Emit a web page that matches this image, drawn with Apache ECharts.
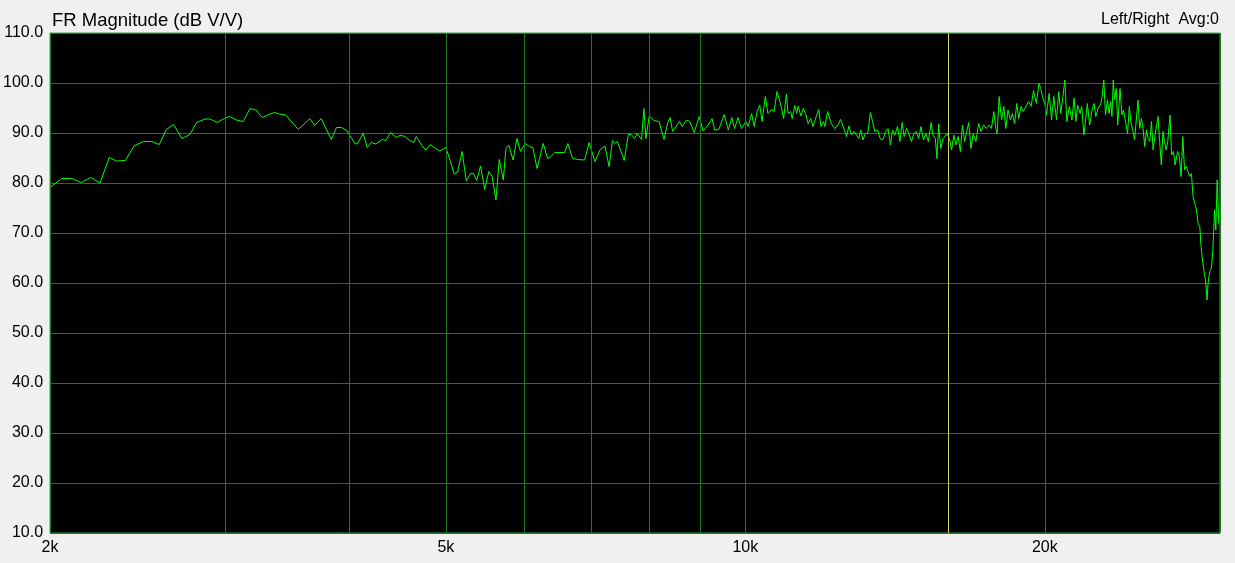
<!DOCTYPE html>
<html>
<head>
<meta charset="utf-8">
<title>FR Magnitude</title>
<script src="https://cdn.jsdelivr.net/npm/echarts@6/dist/echarts.min.js"></script>
<style>
  html, body { margin: 0; padding: 0; background: #f0f0f0; }
  #chart { width: 1235px; height: 563px; }
</style>
</head>
<body>
<div id="chart"></div>
<script>
// frequency (Hz) and magnitude (dB V/V)
const freqHz = [
  2000, 2054, 2102, 2150, 2198, 2245, 2294, 2332, 2381, 2429, 2482, 2530, 2575, 2618, 2662, 2714,
  2765, 2808, 2863, 2895, 2946, 2993, 3030, 3079, 3128,
  3177, 3221, 3270, 3337, 3361, 3402, 3451, 3553, 3649, 3691, 3746, 3835, 3881, 3927, 3974, 4051,
  4072, 4128, 4168, 4206, 4253, 4316, 4350, 4399, 4454, 4496, 4537, 4600, 4641, 4669, 4732, 4775,
  4822, 4884, 4930,
  5000, 5047, 5097, 5137, 5191, 5242, 5292, 5329, 5369, 5417, 5470, 5522, 5565, 5614, 5657, 5689,
  5710, 5745, 5784, 5841, 5893, 5942, 6004, 6067, 6115, 6174, 6263, 6327, 6376, 6435, 6509, 6582,
  6631, 6704, 6783, 6894, 6922, 6965, 7059, 7142, 7224, 7252, 7295, 7352, 7390, 7434, 7500, 7554,
  7628, 7678, 7739,
  7782, 7864, 7907, 7944, 8005, 8092, 8190, 8283, 8357, 8402, 8450, 8585, 8641, 8724, 8793, 8883,
  8987, 9070, 9189, 9258, 9314, 9403, 9521, 9614, 9691, 9755, 9832, 9911, 10012, 10065, 10145, 10206,
  10276, 10339, 10393, 10473, 10534, 10627, 10689, 10760, 10865, 10925,
  10996, 11039, 11109, 11144, 11214, 11259, 11300, 11371, 11432, 11495, 11563, 11634, 11694, 11783,
  11851, 11914, 11983, 12021, 12097, 12198, 12295, 12392, 12463, 12539, 12639, 12708, 12787, 12855,
  12934, 13002, 13061, 13129, 13200, 13276, 13356, 13424, 13495, 13581, 13661, 13746, 13836, 13912,
  13991, 14057, 14133, 14223, 14299, 14375, 14441, 14521, 14597, 14686, 14772, 14851, 14938, 15017,
  15103, 15187, 15273, 15373, 15432, 15522, 15581, 15644, 15718, 15804, 15867,
  15953, 16053, 16116, 16202, 16276, 16361, 16450, 16525, 16610, 16696, 16770, 16859, 16945, 17050,
  17159, 17258, 17355, 17466, 17576, 17676, 17772, 17855, 17910, 17993, 18093, 18189, 18272, 18368,
  18468, 18552, 18648, 18744, 18827, 18927, 19023, 19142, 19264, 19376, 19484, 19610, 19732, 19812,
  19891, 20000, 20078, 20200, 20313, 20421, 20547, 20654, 20748, 20856, 20949, 21043, 21169, 21295,
  21401,
  21490, 21574, 21700, 21784, 21890, 21979, 22068, 22189, 22310, 22415, 22505, 22626, 22768, 22836,
  22925, 23015, 23120, 23204, 23293, 23362, 23435, 23503, 23593, 23677, 23803, 23908, 23992, 24126,
  24221, 24321, 24421, 24519, 24618, 24716, 24812, 24912, 25013, 25106, 25206, 25306, 25401, 25501,
  25601, 25696, 25796, 25896, 25991, 26091, 26191, 26288, 26386, 26487, 26583, 26723, 26818, 26935,
  27040, 27192, 27305, 27417, 27524, 27636, 27749, 27855, 27968, 28080, 28186, 28299, 28410, 28517,
  28630, 28696, 28782, 28895, 29008, 29114, 29180, 29292, 29405, 29511, 29624, 29710, 29803, 29916
];
const magDb = [
  79.1, 80.9, 80.9, 80.1, 81.1, 80.0, 85.1, 84.4, 84.5, 87.4, 88.3, 88.3, 87.7, 90.7, 91.7, 88.9,
  89.7, 92.1, 92.8, 92.8, 92.1, 92.9, 93.3, 92.6, 92.3,
  94.9, 94.6, 93.1, 93.9, 94.1, 93.8, 93.6, 90.7, 92.9, 91.5, 92.9, 88.7, 91.1, 91.1, 90.5, 87.9,
  87.8, 89.9, 87.1, 88.1, 87.8, 88.7, 88.5, 90.1, 89.1, 89.5, 89.4, 88.5, 88.1, 89.3, 87.4, 86.6,
  87.7, 86.9, 86.4,
  87.1, 84.6, 81.8, 82.2, 86.3, 80.4, 81.9, 81.9, 80.5, 83.4, 78.7, 82.3, 81.3, 76.6, 84.7, 82.3,
  80.6, 86.9, 87.6, 84.6, 88.9, 86.3, 87.9, 87.3, 87.1, 82.9, 87.9, 84.9, 85.3, 86.1, 86.1, 86.1,
  87.9, 84.9, 84.7, 84.6, 84.3, 88.1, 84.3, 86.6, 87.4, 87.3, 83.3, 88.5, 87.9, 88.3, 86.3, 84.5,
  89.7, 89.7, 88.9,
  89.9, 88.7, 94.9, 88.9, 93.4, 92.5, 92.3, 88.7, 92.1, 93.1, 90.3, 92.3, 91.3, 92.6, 92.3, 90.1,
  93.3, 90.4, 91.8, 92.9, 90.6, 90.7, 93.7, 90.6, 93.1, 90.9, 93.1, 90.9, 92.3, 91.3, 93.9, 91.3,
  94.3, 95.6, 92.3, 97.3, 93.9, 94.7, 94.3, 98.3, 95.3, 92.9,
  97.8, 93.9, 94.3, 92.9, 95.5, 93.9, 95.4, 93.4, 94.9, 93.9, 91.9, 92.9, 91.3, 93.3,
  94.7, 91.3, 92.3, 91.3, 94.3, 91.9, 90.9, 91.6, 92.7, 91.4, 89.3, 91.4, 89.6, 90.3,
  89.6, 88.9, 90.6, 88.6, 89.9, 89.9, 94.1, 92.3, 90.3, 90.6, 88.9, 88.6, 90.3, 90.9,
  87.6, 90.6, 89.6, 91.3, 88.3, 92.1, 89.3, 90.9, 89.9, 88.3, 89.9, 90.3, 88.9, 91.3,
  88.6, 89.9, 88.3, 92.1, 89.6, 88.9, 84.9, 91.8, 86.9, 88.9, 89.3,
  89.9, 88.6, 86.6, 89.6, 87.6, 89.3, 86.3, 91.6, 88.3, 90.3, 92.1, 86.9, 89.9, 88.3,
  91.9, 90.3, 91.6, 90.9, 91.6, 90.9, 94.3, 90.9, 89.9, 97.3, 92.6, 95.3, 90.9, 94.6,
  92.6, 93.9, 91.9, 95.9, 92.9, 95.3, 94.3, 95.3, 96.3, 95.3, 98.5, 95.9, 99.9, 98.9,
  97.3, 95.9, 93.6, 97.9, 92.6, 97.3, 92.6, 98.3, 93.9, 97.3, 100.6, 92.3, 95.3, 92.6,
  97.0,
  92.3, 95.6, 93.9, 95.3, 89.6, 92.6, 95.9, 91.6, 94.6, 95.9, 93.3, 94.9, 95.9, 97.3,
  100.6, 93.6, 96.6, 93.9, 96.3, 93.3, 100.6, 96.6, 98.9, 91.6, 98.9, 93.6, 94.6, 91.9,
  89.9, 95.3, 91.9, 90.6, 88.6, 92.6, 96.6, 90.9, 92.9, 90.9, 87.3, 90.6, 88.9, 88.3,
  92.3, 86.6, 89.3, 89.6, 93.3, 88.3, 83.6, 90.3, 88.3, 86.6, 88.3, 93.6, 85.6, 86.3,
  83.6, 86.3, 85.3, 81.3, 89.3, 82.6, 83.3, 83.6, 81.3, 81.9, 77.3, 75.9, 74.6, 71.9,
  71.3, 67.9, 65.3, 62.6, 60.6, 56.6, 59.9, 62.3, 62.9, 66.6, 74.6, 70.6, 80.6, 71.9
];

// vertical grid lines and the labelled ones
const gridFreqs = [2000, 3000, 4000, 5000, 6000, 7000, 8000, 9000, 10000, 20000, 30000];
const xTickValues = [2000, 5000, 10000, 20000];
const xTickLabels = ["2k", "5k", "10k", "20k"];
const cursorHz = 16000;

const FONT = "Liberation Sans, Arial, sans-serif";
const GRID_GREEN = "#1a7a1e";
const chart = echarts.init(document.getElementById("chart"));

const vLines = gridFreqs.map((f) => {
  const idx = xTickValues.indexOf(f);
  return {
    xAxis: f,
    label: idx >= 0 ? { show: true, formatter: xTickLabels[idx] } : { show: false }
  };
});

chart.setOption({
  animation: false,
  backgroundColor: "#f0f0f0",
  title: [
    {
      text: "FR Magnitude (dB V/V)",
      left: 47,
      top: 6,
      textStyle: { fontFamily: FONT, fontSize: 18.5, fontWeight: "normal", color: "#000" }
    },
    {
      text: "Left/Right  Avg:0",
      right: 11,
      top: 7,
      textStyle: { fontFamily: FONT, fontSize: 16, fontWeight: "normal", color: "#000" }
    }
  ],
  grid: {
    left: 50,
    right: 15,
    top: 33,
    bottom: 30,
    show: true,
    backgroundColor: "#000",
    borderColor: "#2fa84c",
    borderWidth: 1
  },
  xAxis: {
    type: "log",
    logBase: 10,
    min: 2000,
    max: 30000,
    axisLine: { show: false },
    axisTick: { show: false },
    axisLabel: { show: false },
    splitLine: { show: false }
  },
  yAxis: {
    type: "value",
    min: 10,
    max: 110,
    interval: 10,
    axisLine: { show: false },
    axisTick: { show: false },
    axisLabel: {
      formatter: (v) => v.toFixed(1),
      color: "#000",
      fontFamily: FONT,
      fontSize: 16,
      margin: 7
    },
    splitLine: { lineStyle: { color: GRID_GREEN, width: 1 } }
  },
  series: [
    {
      // grid lines + cursor, kept below the trace
      type: "line",
      data: [],
      z: 1,
      silent: true,
      markLine: {
        silent: true,
        symbol: ["none", "none"],
        animation: false,
        lineStyle: { color: GRID_GREEN, width: 1, type: "solid" },
        label: {
          position: "start",
          distance: 7,
          color: "#000",
          fontFamily: FONT,
          fontSize: 16
        },
        emphasis: { disabled: true },
        data: vLines
      }
    },
    {
      type: "line",
      data: freqHz.map((f, i) => [f, magDb[i]]),
      z: 3,
      symbol: "none",
      showSymbol: false,
      lineStyle: { color: "#00ff00", width: 1 },
      emphasis: { disabled: true },
      markLine: {
        silent: true,
        symbol: ["none", "none"],
        animation: false,
        label: { show: false },
        lineStyle: { color: "#d2d25a", width: 1, type: "solid" },
        emphasis: { disabled: true },
        data: [{ xAxis: cursorHz }]
      }
    }
  ]
});
</script>
</body>
</html>
